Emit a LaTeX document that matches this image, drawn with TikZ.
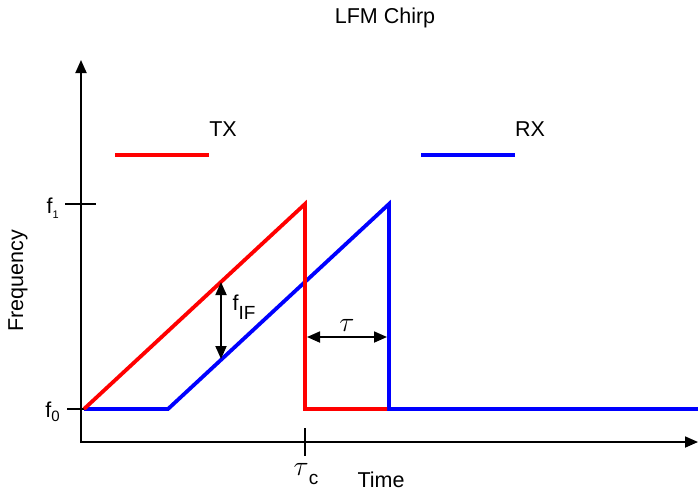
\documentclass[tikz,border=0pt]{standalone}
\usepackage{fontspec}
\setmainfont{Liberation Sans}
\usetikzlibrary{arrows.meta}
\begin{document}
\begin{tikzpicture}[x=1pt,y=-1pt,
  axis/.style={line width=1.8pt,-{Triangle[length=13pt,width=11pt]}},
  tickline/.style={line width=1.8pt},
  txline/.style={line width=3.8pt,red,line join=miter},
  rxline/.style={line width=3.8pt,blue,line join=miter},
  dimarrow/.style={line width=1.8pt,{Triangle[length=13pt,width=11pt]}-{Triangle[length=13pt,width=11pt]}},
  lbl/.style={font=\fontsize{21.5}{24}\selectfont,inner sep=0pt}]
\useasboundingbox (0,0) rectangle (698,491);
% axes
\coordinate (o) at (81,442);
\coordinate (ytop) at (81,60);
\coordinate (xend) at (698,442);
\draw[axis] (81,443) -- (ytop);
\draw[axis] (o) -- (xend);
% ticks
\draw[tickline] (65,204) -- (96,204);
\draw[tickline] (67,409) -- (84,409);
\draw[tickline] (305,428) -- (305,456);
% labels
\node[lbl] (title) at (385,18) {LFM Chirp};
\node[lbl,rotate=90] (freq) at (18,281) {Frequency};
\node[lbl] (time) at (381,480) {Time};
\node[lbl,anchor=east] (f1) at (59,208) {f\raisebox{-0.4ex}{\fontsize{11}{12}\selectfont 1}};
\node[lbl,anchor=east] (f0) at (60,412) {f\raisebox{-0.4ex}{\fontsize{15}{16}\selectfont 0}};
\node[lbl] (tx) at (223,129) {TX};
\node[lbl] (rx) at (530,129) {RX};
\node[lbl] (tauc) at (306,474) {\scalebox{1.35}{$\tau$}\raisebox{-0.8ex}{\fontsize{19}{20}\selectfont c}};
\node[lbl] (fif) at (244,307) {f\raisebox{-0.8ex}{\fontsize{19}{20}\selectfont IF}};
\node[lbl] (tau) at (347,325) {\scalebox{1.35}{$\tau$}};
% legend lines
\draw[txline] (115,155) -- (209,155);
\draw[rxline] (421,155) -- (515,155);
% chirps
\draw[rxline] (84,409) -- (168,409) -- (389,204) -- (389,409) -- (698,409);
\draw[txline] (84,409) -- (305,204) -- (305,409) -- (387,409);
% dimension arrows
\coordinate (fa) at (221,282);
\coordinate (fb) at (221,359);
\draw[dimarrow] (fa) -- (fb);
\coordinate (ta) at (307,337);
\coordinate (tb) at (387,337);
\draw[dimarrow] (ta) -- (tb);
\end{tikzpicture}
\end{document}
